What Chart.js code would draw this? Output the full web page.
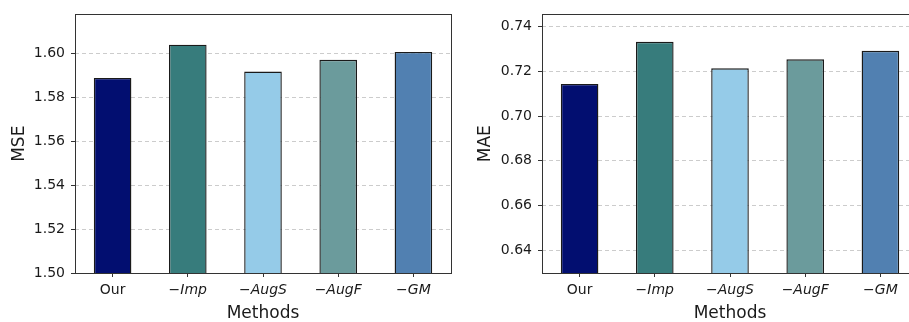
<!DOCTYPE html>
<html>
<head>
<meta charset="utf-8">
<script src="https://cdn.jsdelivr.net/npm/chart.js@4.4.1/dist/chart.umd.min.js"></script>
<style>
  html, body { margin: 0; padding: 0; background: #fff; overflow: hidden; width: 909px; height: 322px; }
  .box { position: absolute; top: 0; height: 322px; }
  #leftBox { left: 0; width: 460px; }
  #rightBox { left: 460px; width: 470px; }
</style>
</head>
<body>
<div class="box" id="leftBox"><canvas id="mseChart"></canvas></div>
<div class="box" id="rightBox"><canvas id="maeChart"></canvas></div>
<script>
// === DATA ===
const methods = ['Our', '\u2212Imp', '\u2212AugS', '\u2212AugF', '\u2212GM'];
const mseValues = [1.589, 1.6042, 1.5919, 1.5973, 1.6009];
const maeValues = [0.7143, 0.7331, 0.7213, 0.7253, 0.7291];
const mseTicks = [1.50, 1.52, 1.54, 1.56, 1.58, 1.60];
const maeTicks = [0.64, 0.66, 0.68, 0.70, 0.72, 0.74];
const barColors = ['#020e70', '#377c7c', '#95cbe8', '#6b9b9c', '#5180b1'];

const FONT = 'DejaVu Sans';
const TEXT = '#1a1a1a';

// frame around plot area (matplotlib spines)
const framePlugin = {
  id: 'frame',
  afterDraw(chart) {
    const a = chart.chartArea;
    const ctx = chart.ctx;
    ctx.save();
    ctx.strokeStyle = '#333';
    ctx.lineWidth = 1;
    ctx.strokeRect(Math.round(a.left) + 0.5, Math.round(a.top) + 0.5,
      Math.round(a.right - a.left), Math.round(a.bottom - a.top));
    ctx.restore();
  }
};

function makeChart(id, values, ticks, yMin, yMax, yTitle, yWidth, titlePad, padRight) {
  const ctx = document.getElementById(id).getContext('2d');
  return new Chart(ctx, {
    type: 'bar',
    data: {
      labels: methods,
      datasets: [{
        data: values,
        backgroundColor: barColors,
        borderColor: '#1a1a1a',
        borderWidth: 1.4,
        borderSkipped: false,
        barPercentage: 0.5,
        categoryPercentage: 1.0
      }]
    },
    options: {
      responsive: true,
      maintainAspectRatio: false,
      animation: false,
      layout: { padding: { top: 11, right: padRight, left: 0, bottom: 0 } },
      plugins: { legend: { display: false }, tooltip: { enabled: false } },
      scales: {
        x: {
          offset: true,
          border: { display: false },
          grid: { drawOnChartArea: false, tickLength: 4, tickColor: '#333', tickWidth: 1, offset: false },
          ticks: {
            color: TEXT,
            padding: 5,
            maxRotation: 0,
            font: c => ({ family: FONT, size: 14, style: c.index === 0 ? 'normal' : 'italic' })
          },
          title: {
            display: true, text: 'Methods', color: TEXT,
            font: { family: FONT, size: 17, lineHeight: 1 },
            padding: { top: 0, bottom: 0 }
          },
          afterFit: s => { s.height = 49; }
        },
        y: {
          min: yMin,
          max: yMax,
          z: 1,
          border: { display: false, dash: [4, 3] },
          grid: {
            color: 'rgba(170,170,170,0.6)',
            lineWidth: 1,
            tickLength: 4,
            tickColor: '#333',
            tickBorderDash: []
          },
          afterBuildTicks: s => { s.ticks = ticks.map(v => ({ value: v })); },
          ticks: {
            color: TEXT,
            padding: 6,
            font: { family: FONT, size: 14 },
            callback: v => Number(v).toFixed(2)
          },
          title: {
            display: true, text: yTitle, color: TEXT,
            font: { family: FONT, size: 17, lineHeight: 1.2 },
            padding: { top: titlePad, bottom: 0 }
          },
          afterFit: s => { s.width = yWidth; }
        }
      }
    },
    plugins: [framePlugin]
  });
}

// === MSE ===
makeChart('mseChart', mseValues, mseTicks, 1.50, 1.618, 'MSE', 75, 9, 9);
// === MAE ===
makeChart('maeChart', maeValues, maeTicks, 0.630, 0.7453, 'MAE', 82, 15, 12);
</script>
</body>
</html>
